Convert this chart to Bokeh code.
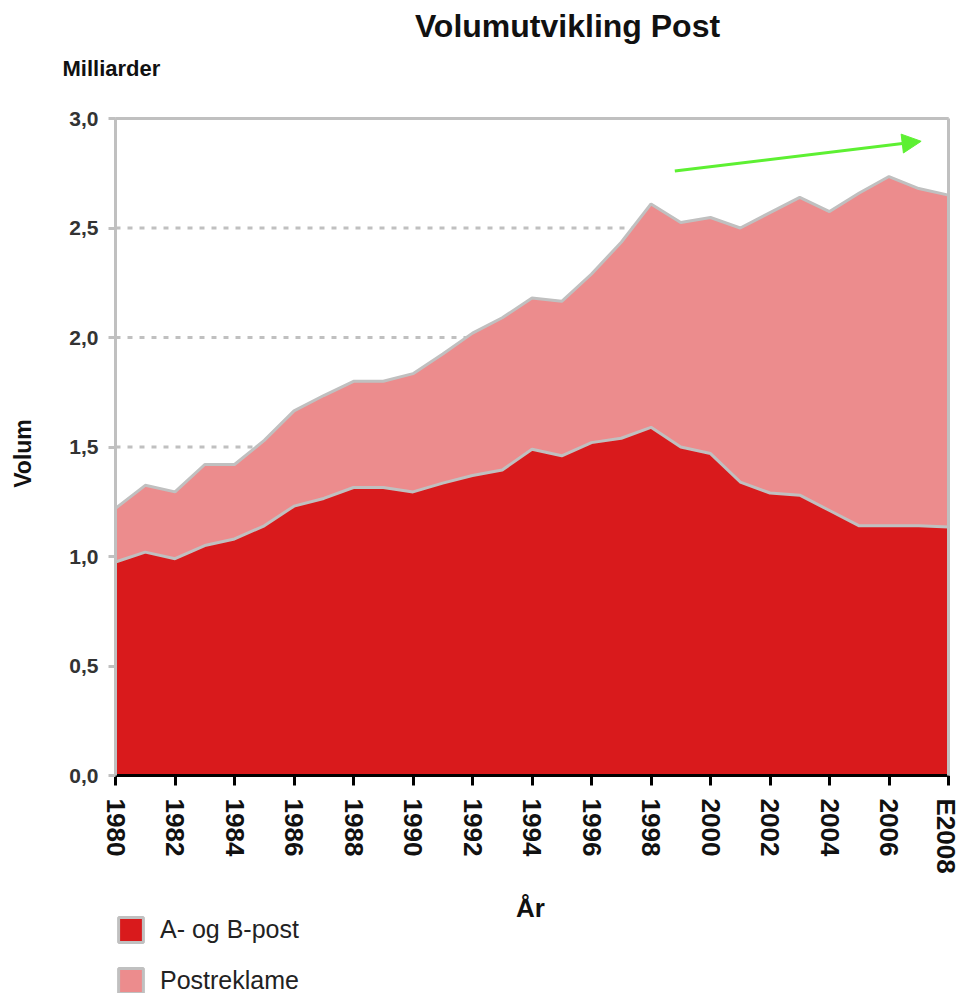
from math import pi
import numpy as np
from bokeh.plotting import figure
from bokeh.models import (Range1d, FixedTicker, CustomJSTickFormatter, Label, Arrow,
                          NormalHead, Legend, LegendItem, ColumnDataSource, LinearAxis)
from bokeh.embed import file_html
from bokeh.resources import INLINE

# ---------------- data ----------------
years = list(range(1980, 2009))
ab_post = [0.975, 1.02, 0.99, 1.05, 1.08, 1.14, 1.23, 1.265, 1.315, 1.315,
           1.295, 1.335, 1.37, 1.395, 1.49, 1.46, 1.52, 1.54, 1.59, 1.50,
           1.47, 1.34, 1.29, 1.28, 1.21, 1.14, 1.14, 1.14, 1.135]
postreklame = [0.245, 0.305, 0.305, 0.37, 0.34, 0.39, 0.435, 0.47, 0.485, 0.485,
               0.54, 0.59, 0.65, 0.695, 0.69, 0.705, 0.77, 0.895, 1.02, 1.025,
               1.078, 1.16, 1.28, 1.36, 1.365, 1.52, 1.595, 1.54, 1.515]
x_tick_values = list(range(1980, 2009, 2))
x_tick_labels = [str(y) for y in x_tick_values[:-1]] + ["E2008"]
y_tick_values = [0.0, 0.5, 1.0, 1.5, 2.0, 2.5, 3.0]
series_names = ["A- og B-post", "Postreklame"]
trend_start = (1998.8, 2.76)
trend_end = (2007.08, 2.896)
x_min, x_max = 1980, 2008
y_min, y_max = 0.0, 3.0

# ---------------- layout / styles ----------------
W, H = 960, 993
FRAME_L, FRAME_R, FRAME_T, FRAME_B = 115, 948, 118, 775
RED = "#d91a1c"
PINK = "#ec8c8d"
GREY = "#c0c0c0"
GREEN = "#5df032"
FONT = "Liberation Sans"

sx = (FRAME_R - FRAME_L) / (x_max - x_min)
sy = (FRAME_B - FRAME_T) / (y_max - y_min)
x_range = Range1d(x_min - FRAME_L / sx, x_max + (W - FRAME_R) / sx)
y_range = Range1d(y_min - (H - FRAME_B) / sy, y_max + FRAME_T / sy)

total = list(np.array(ab_post) + np.array(postreklame))
src = ColumnDataSource(dict(year=years, ab=ab_post, total=total))

p = figure(width=W, height=H, output_backend="svg", toolbar_location=None,
           x_range=x_range, y_range=y_range, x_axis_type=None, y_axis_type=None,
           min_border=0, outline_line_color=None,
           background_fill_color="white", border_fill_color="white")
p.grid.visible = False

# dashed horizontal grid lines (under the areas)
p.segment(x0=[x_min] * len(y_tick_values), x1=[x_max] * len(y_tick_values),
          y0=y_tick_values, y1=y_tick_values, line_color=GREY, line_width=3,
          line_dash="5 7")

# stacked areas
p.varea(x="year", y1=0, y2="ab", source=src, fill_color=RED)
p.varea(x="year", y1="ab", y2="total", source=src, fill_color=PINK)
p.line(x="year", y="ab", source=src, line_color=GREY, line_width=3)
p.line(x="year", y="total", source=src, line_color=GREY, line_width=3)

# trend arrow
p.add_layout(Arrow(end=NormalHead(size=19, fill_color=GREEN, line_color=GREEN, line_width=1),
                   x_start=trend_start[0], y_start=trend_start[1],
                   x_end=trend_end[0], y_end=trend_end[1],
                   line_color=GREEN, line_width=3))

# y axis
yax = LinearAxis(fixed_location=x_min, bounds=(y_min, y_max),
                 ticker=FixedTicker(ticks=y_tick_values, minor_ticks=[]),
                 formatter=CustomJSTickFormatter(code="return tick.toFixed(1).replace('.', ',');"),
                 axis_line_color=GREY, axis_line_width=3,
                 major_tick_line_color=GREY, major_tick_line_width=3,
                 major_tick_out=7, major_tick_in=0, minor_tick_line_color=None,
                 major_label_standoff=10, major_label_text_font=FONT,
                 major_label_text_font_style="bold", major_label_text_font_size="21px",
                 major_label_text_color="#333333")
p.add_layout(yax, "left")

# x axis
xax = LinearAxis(fixed_location=y_min, bounds=(x_min, x_max),
                 ticker=FixedTicker(ticks=x_tick_values, minor_ticks=[]),
                 major_label_overrides=dict(zip(x_tick_values, x_tick_labels)),
                 major_label_orientation="vertical",
                 axis_line_color="black", axis_line_width=3,
                 major_tick_line_color="black", major_tick_line_width=3,
                 major_tick_out=10, major_tick_in=0, minor_tick_line_color=None,
                 major_label_standoff=13, major_label_text_font=FONT,
                 major_label_text_font_style="bold", major_label_text_font_size="26px",
                 major_label_text_color="#111111")
p.add_layout(xax, "below")

# frame lines at top and right
top_ax = LinearAxis(fixed_location=y_max, bounds=(x_min, x_max), ticker=FixedTicker(ticks=[]),
                    axis_line_color=GREY, axis_line_width=3, major_tick_line_color=None,
                    minor_tick_line_color=None)
p.add_layout(top_ax, "above")
right_ax = LinearAxis(fixed_location=x_max, bounds=(y_min, y_max), ticker=FixedTicker(ticks=[]),
                      axis_line_color=GREY, axis_line_width=3, major_tick_line_color=None,
                      minor_tick_line_color=None)
p.add_layout(right_ax, "right")

# texts
def add_label(text, x, y, size, style="bold", align="center", angle=0.0):
    p.add_layout(Label(text=text, x=x, y=H - y, x_units="screen", y_units="screen",
                       text_font=FONT, text_font_size=size, text_font_style=style,
                       text_align=align, text_baseline="middle", angle=angle,
                       text_color="#111111"))

add_label("Volumutvikling Post", 567, 25, "32px")
add_label("Milliarder", 62, 68, "22px", align="left")
add_label("Volum", 22, 453, "23px", angle=pi / 2)
add_label("År", 530, 907, "26px")

# legend
nan = [float("nan")]
q1 = p.quad(left=nan, right=nan, top=nan, bottom=nan, fill_color=RED,
            line_color=GREY, line_width=3)
q2 = p.quad(left=nan, right=nan, top=nan, bottom=nan, fill_color=PINK,
            line_color=GREY, line_width=3)
legend = Legend(items=[LegendItem(label=series_names[0], renderers=[q1]),
                       LegendItem(label=series_names[1], renderers=[q2])],
                location=(FRAME_L, -3), orientation="vertical",
                glyph_width=31, glyph_height=31, spacing=20, padding=0, margin=0,
                label_standoff=14, border_line_alpha=0, background_fill_alpha=0,
                label_text_font=FONT, label_text_font_size="25px",
                label_text_color="#222222", label_text_baseline="middle")
p.add_layout(legend)

open("out.html", "w").write(file_html(p, INLINE))
